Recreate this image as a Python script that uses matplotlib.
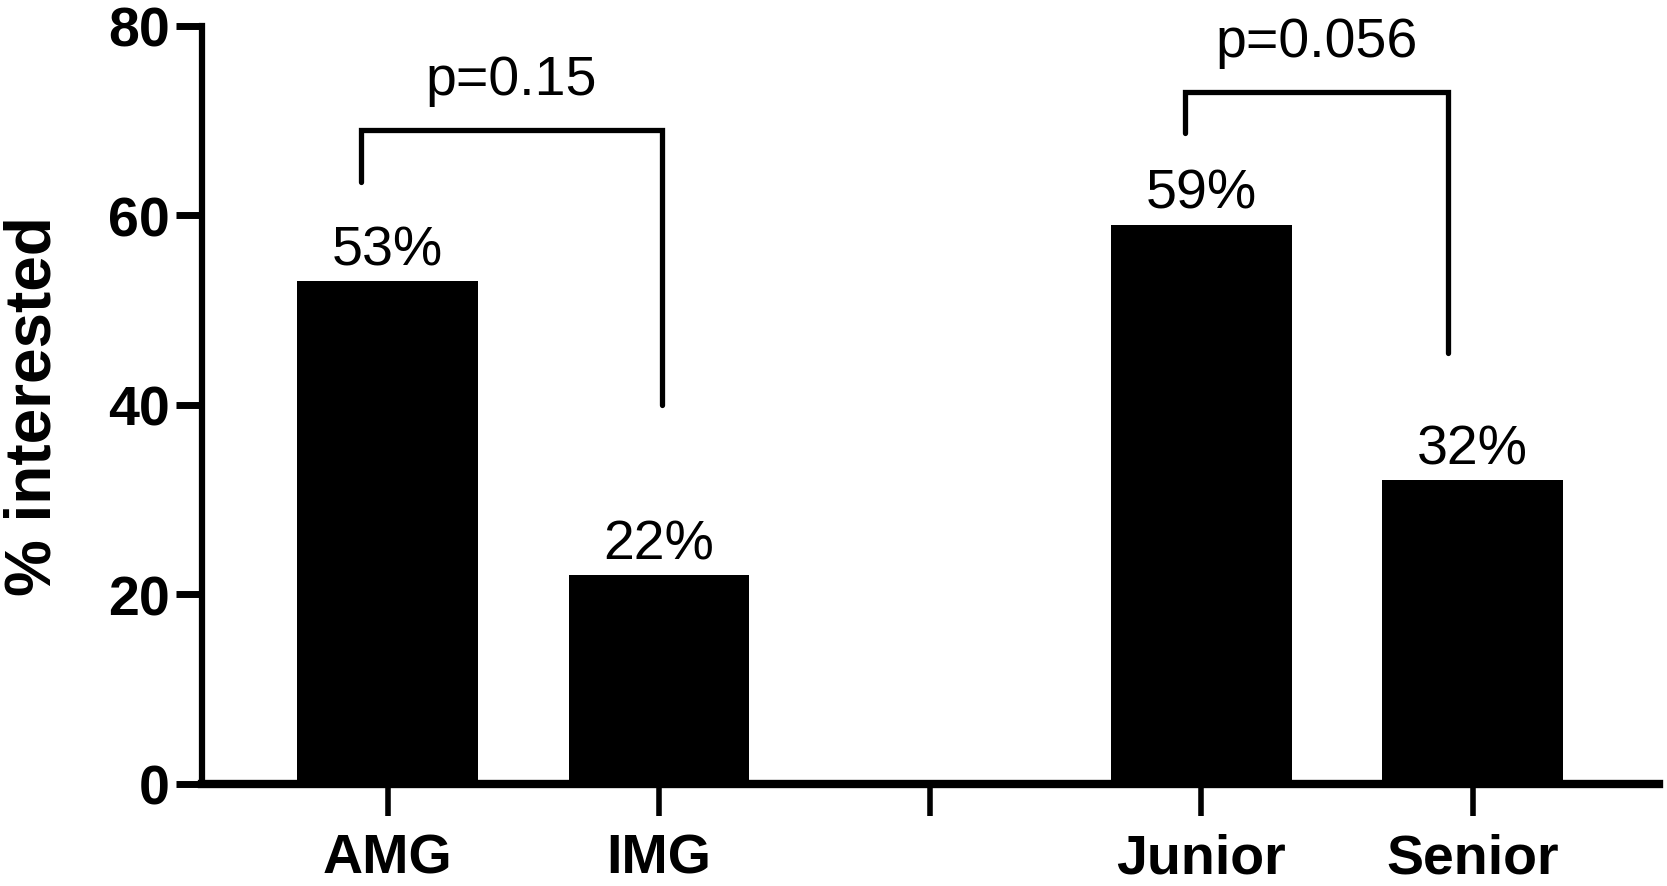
import matplotlib.pyplot as plt

plt.rcParams['font.family'] = ['Liberation Sans', 'DejaVu Sans']

categories = ["AMG", "IMG", "", "Junior", "Senior"]
bar_pos = [0, 1, 3, 4]
values = [53, 22, 59, 32]
bar_labels = ["53%", "22%", "59%", "32%"]

# brackets: (x left, x right, y top, y left leg end, y right leg end, text)
brackets = [
    (-0.1, 1.01, 69, 63.5, 40, "p=0.15"),
    (2.94, 3.91, 73, 68.7, 45.4, "p=0.056"),
]

fig = plt.figure(figsize=(16.67, 8.87), dpi=100)
ax = fig.add_axes([0.121, 0.1155, 0.995 - 0.121, 0.970 - 0.1155])

ax.bar(bar_pos, values, width=0.667, color="black")
for x, v, s in zip(bar_pos, values, bar_labels):
    ax.text(x, v + 0.5, s, ha='center', va='bottom', fontsize=40)

for x0, x1, top, l0, l1, s in brackets:
    ax.plot([x0, x0, x1, x1], [l0, top, top, l1], color="black", lw=3.8,
            solid_capstyle='round', solid_joinstyle='miter')
    ax.text((x0 + x1) / 2, top + 2.5, s, ha='center', va='bottom', fontsize=40)

ax.set_xlim(-0.686, 4.686)
ax.set_ylim(0, 80)
ax.set_yticks([0, 20, 40, 60, 80])
ax.set_xticks(range(len(categories)))
ax.set_xticklabels(categories, fontsize=40, fontweight='bold')
ax.tick_params(axis='y', labelsize=40, width=5, length=19, pad=4)
ax.tick_params(axis='x', width=4, length=23, pad=12)
for lab in ax.get_yticklabels():
    lab.set_fontweight('bold')

ax.spines['top'].set_visible(False)
ax.spines['right'].set_visible(False)
ax.spines['left'].set_linewidth(4.5)
ax.spines['bottom'].set_linewidth(6)
ax.set_ylabel("% interested", fontsize=46, fontweight='bold', labelpad=32)

fig.savefig("out.png", dpi=100)
